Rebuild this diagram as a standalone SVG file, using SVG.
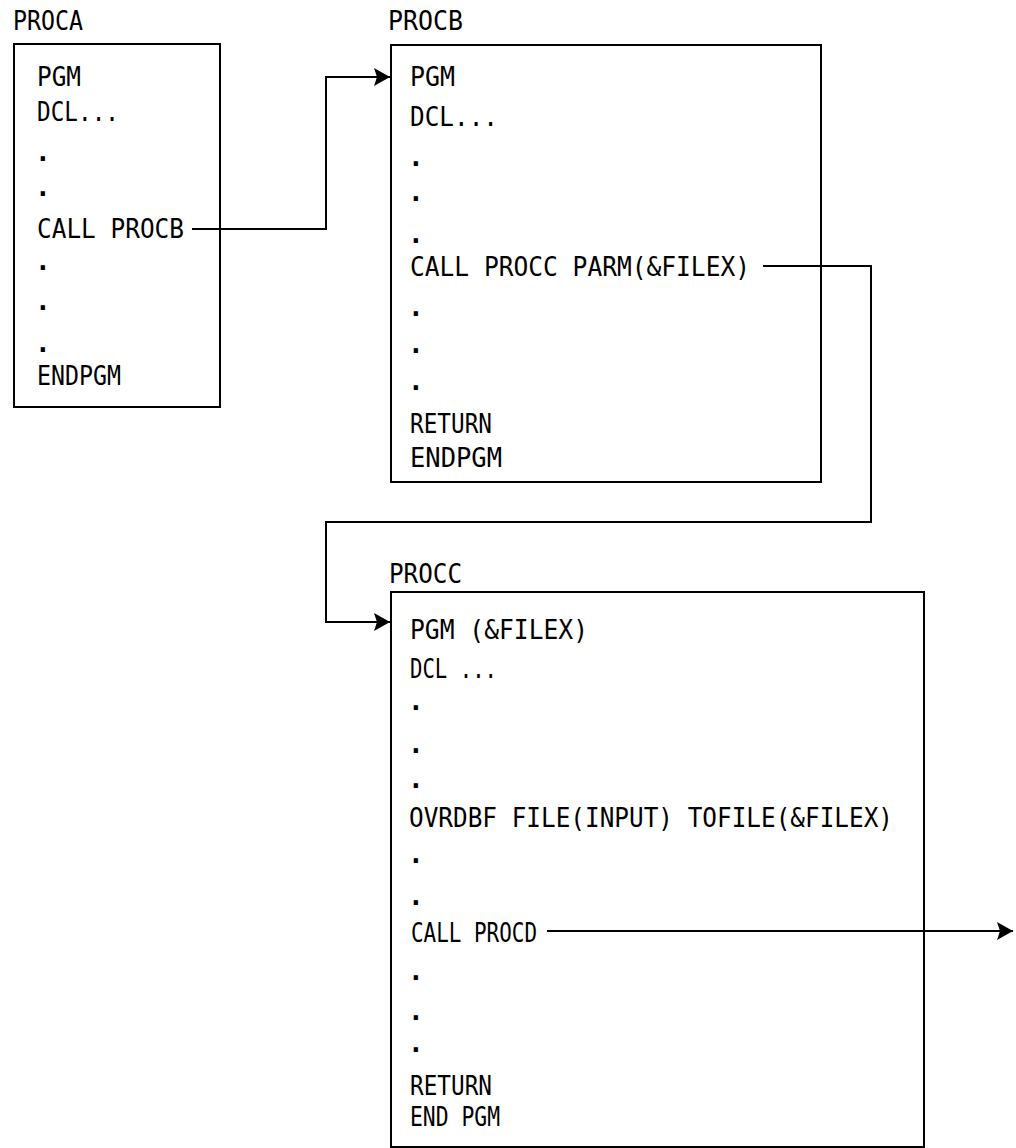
<svg xmlns="http://www.w3.org/2000/svg" width="1016" height="1148" viewBox="0 0 1016 1148">
  <style>
    .t { font-family: "DejaVu Sans Mono", "Liberation Mono", monospace; font-size: 26px; fill: #000; }
    .d { font-family: "DejaVu Sans Mono", "Liberation Mono", monospace; font-size: 26px; font-weight: bold; fill: #000; }
    .box { fill: #fff; stroke: #000; stroke-width: 2; }
    .conn { fill: none; stroke: #000; stroke-width: 2; }
  </style>
  <defs>
    <marker id="arrow" viewBox="0 0 16 18" refX="16" refY="9" markerWidth="16" markerHeight="18" markerUnits="userSpaceOnUse" orient="auto">
      <path d="M0,0 L16,9 L0,18 L3,9 z" fill="#000"/>
    </marker>
  </defs>
  <rect width="1016" height="1148" fill="#fff"/>

  <g id="procA">
    <text class="t" x="13" y="30" textLength="70" lengthAdjust="spacingAndGlyphs">PROCA</text>
    <rect class="box" x="14" y="44" width="206" height="363"/>
    <text class="t" x="37" y="86" textLength="44" lengthAdjust="spacingAndGlyphs">PGM</text>
    <text class="t" x="37" y="121" textLength="82" lengthAdjust="spacingAndGlyphs">DCL...</text>
    <text class="d" x="35" y="161">.</text>
    <text class="d" x="35" y="196">.</text>
    <text class="t" x="37" y="238" textLength="147" lengthAdjust="spacingAndGlyphs">CALL PROCB</text>
    <text class="d" x="35" y="270">.</text>
    <text class="d" x="35" y="310">.</text>
    <text class="d" x="35" y="352">.</text>
    <text class="t" x="37" y="385" textLength="84" lengthAdjust="spacingAndGlyphs">ENDPGM</text>
  </g>

  <g id="procB">
    <text class="t" x="388" y="30" textLength="75" lengthAdjust="spacingAndGlyphs">PROCB</text>
    <rect class="box" x="391" y="45" width="430" height="437"/>
    <text class="t" x="410" y="86" textLength="45" lengthAdjust="spacingAndGlyphs">PGM</text>
    <text class="t" x="410" y="126" textLength="88" lengthAdjust="spacingAndGlyphs">DCL...</text>
    <text class="d" x="408" y="166">.</text>
    <text class="d" x="408" y="201">.</text>
    <text class="d" x="408" y="243">.</text>
    <text class="t" x="410" y="276" textLength="340" lengthAdjust="spacingAndGlyphs">CALL PROCC PARM(&amp;FILEX)</text>
    <text class="d" x="408" y="316">.</text>
    <text class="d" x="408" y="353">.</text>
    <text class="d" x="408" y="390">.</text>
    <text class="t" x="410" y="433" textLength="82" lengthAdjust="spacingAndGlyphs">RETURN</text>
    <text class="t" x="410" y="467" textLength="92" lengthAdjust="spacingAndGlyphs">ENDPGM</text>
  </g>

  <g id="procC">
    <text class="t" x="389" y="583" textLength="73" lengthAdjust="spacingAndGlyphs">PROCC</text>
    <rect class="box" x="391" y="592" width="533" height="555"/>
    <text class="t" x="410" y="639" textLength="178" lengthAdjust="spacingAndGlyphs">PGM (&amp;FILEX)</text>
    <text class="t" x="410" y="678" textLength="87" lengthAdjust="spacingAndGlyphs">DCL ...</text>
    <text class="d" x="408" y="710">.</text>
    <text class="d" x="408" y="753">.</text>
    <text class="d" x="408" y="788">.</text>
    <text class="t" x="409" y="827" textLength="484" lengthAdjust="spacingAndGlyphs">OVRDBF FILE(INPUT) TOFILE(&amp;FILEX)</text>
    <text class="d" x="408" y="863">.</text>
    <text class="d" x="408" y="905">.</text>
    <text class="t" x="411" y="942" textLength="126" lengthAdjust="spacingAndGlyphs">CALL PROCD</text>
    <text class="d" x="408" y="980">.</text>
    <text class="d" x="408" y="1020">.</text>
    <text class="d" x="408" y="1052">.</text>
    <text class="t" x="410" y="1095" textLength="82" lengthAdjust="spacingAndGlyphs">RETURN</text>
    <text class="t" x="410" y="1126" textLength="90" lengthAdjust="spacingAndGlyphs">END PGM</text>
  </g>

  <g id="connectors">
    <path class="conn" d="M192,229 H326 V77 H390" marker-end="url(#arrow)"/>
    <path class="conn" d="M763,266 H871 V522 H326 V622 H390" marker-end="url(#arrow)"/>
    <path class="conn" d="M547,931 H1013" marker-end="url(#arrow)"/>
  </g>
</svg>
